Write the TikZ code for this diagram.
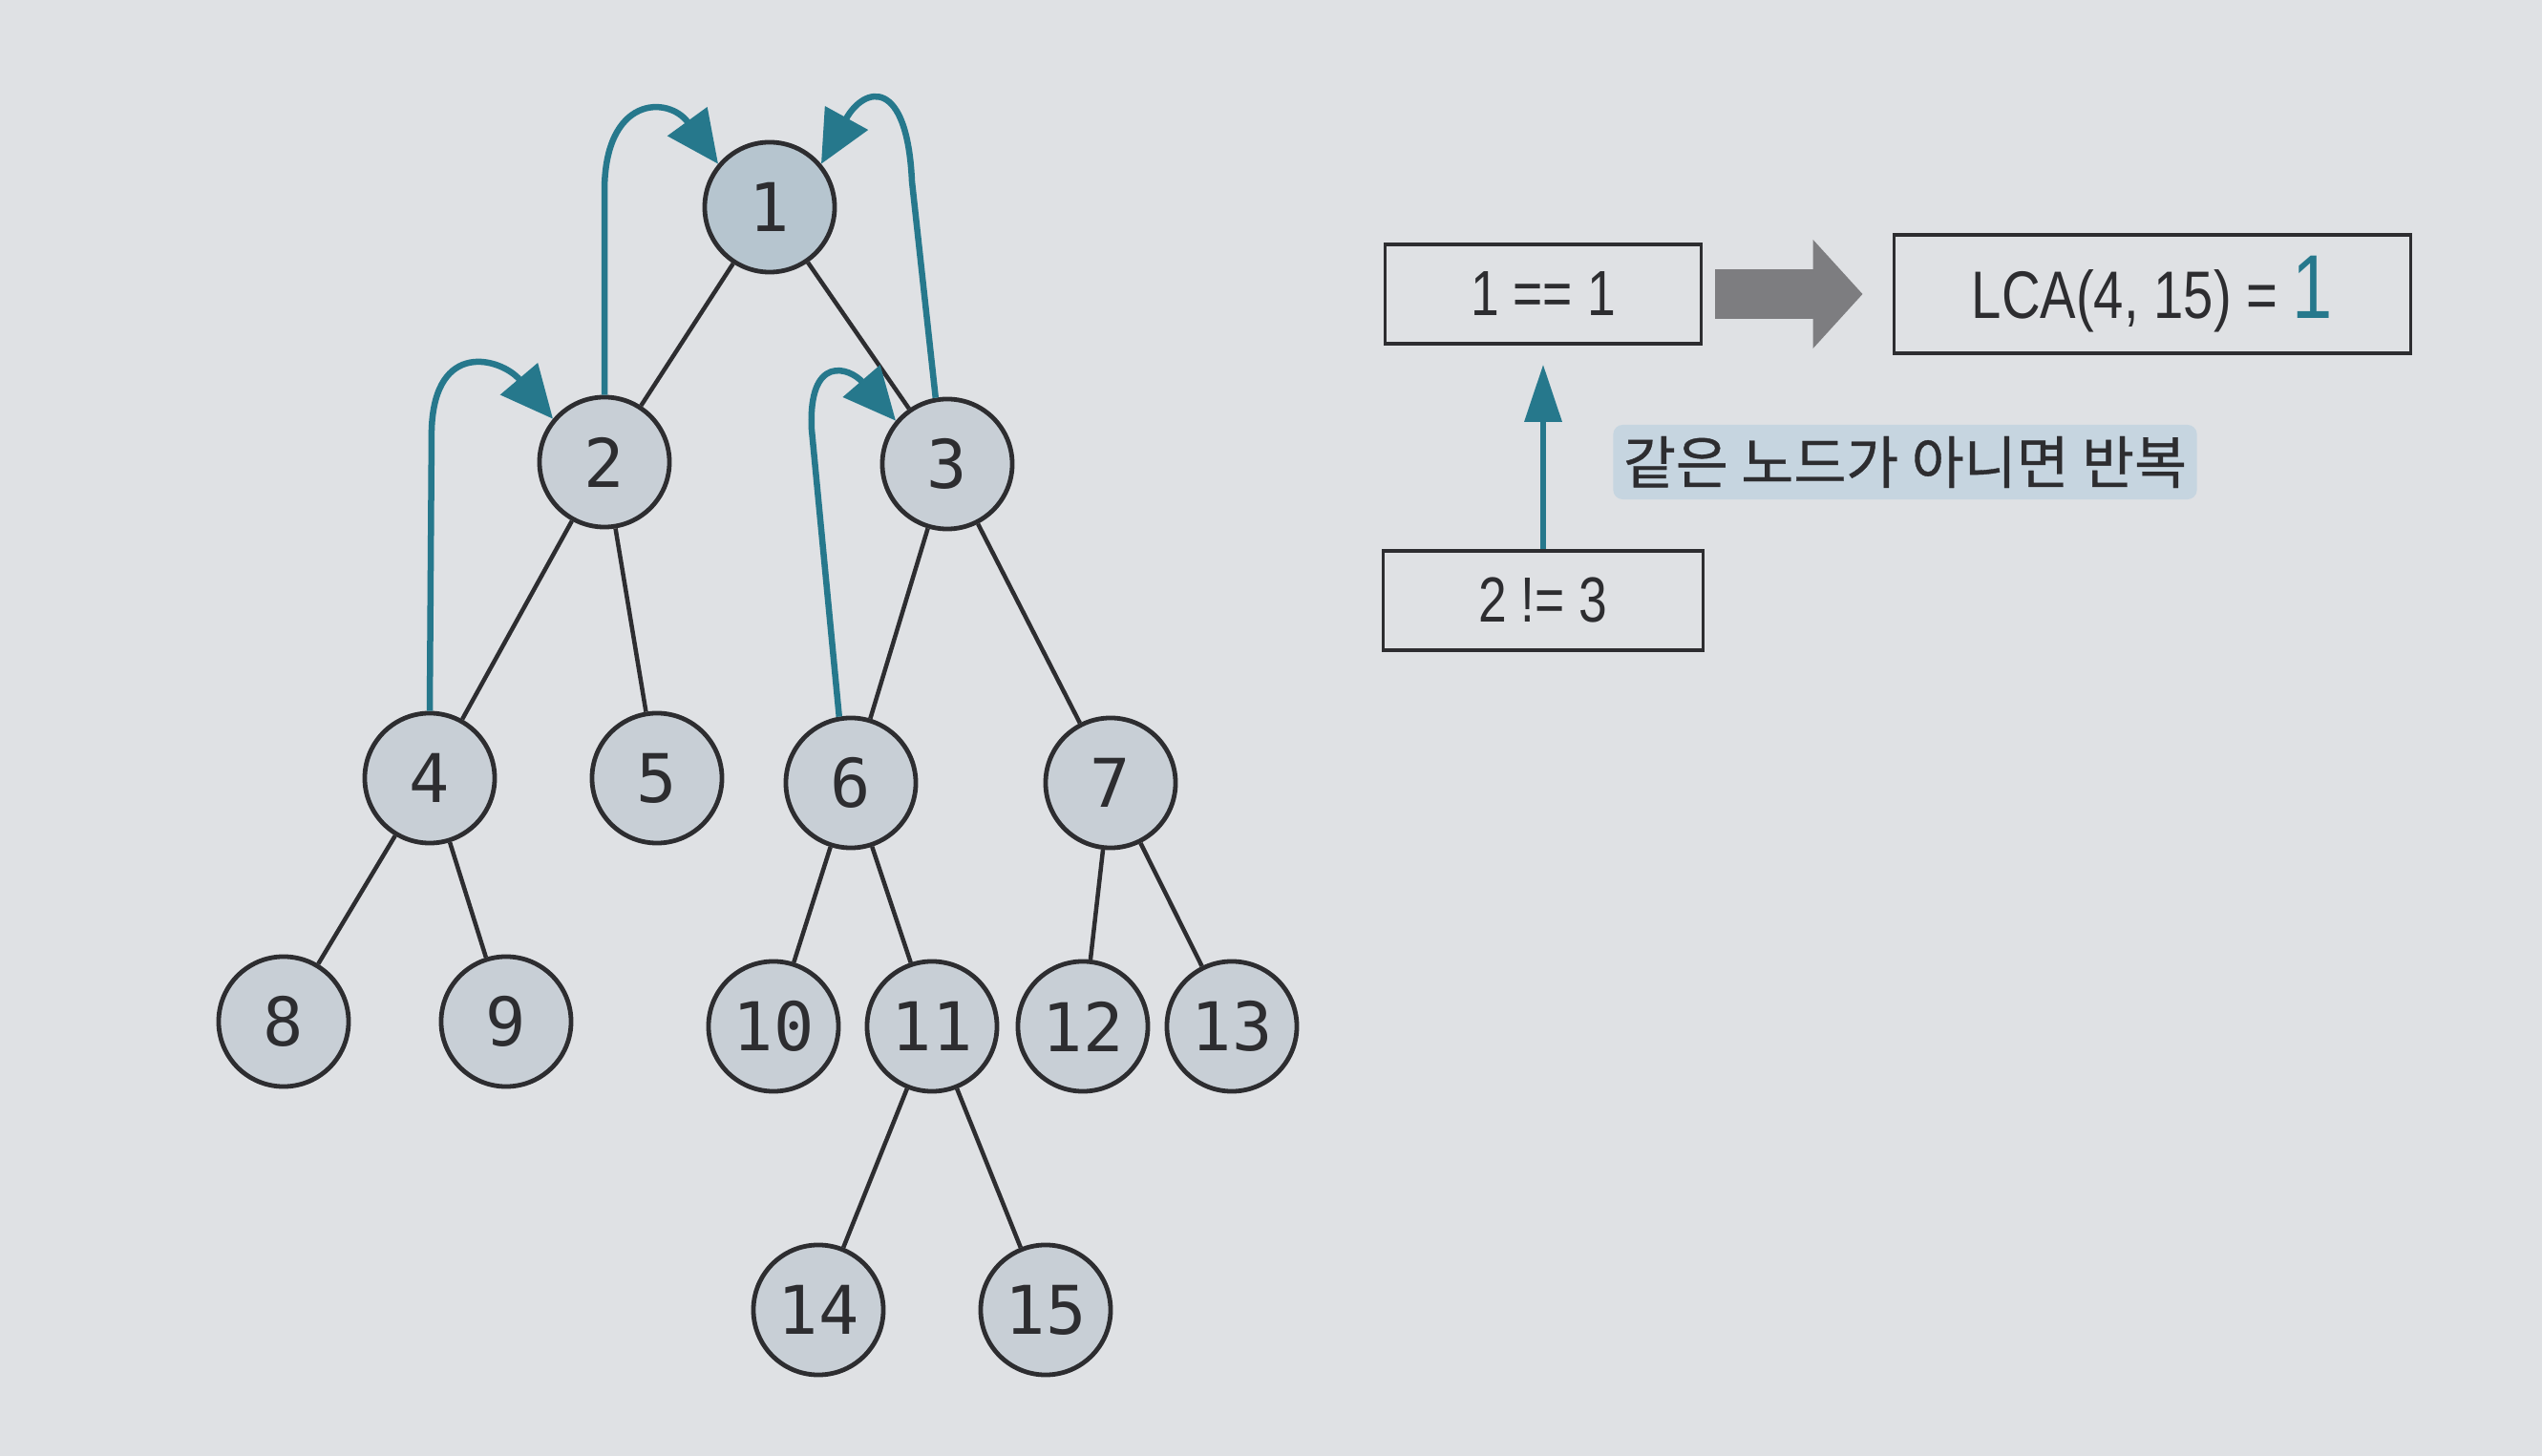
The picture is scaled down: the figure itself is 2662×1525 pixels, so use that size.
\documentclass[tikz,border=0pt]{standalone}
\usepackage{fontspec}
\newfontfamily\nodefont{DejaVu Sans Mono}
\newfontfamily\boxfont[FakeStretch=0.8]{Liberation Sans}
\newfontfamily\krfont[FakeBold=0.6]{Noto Sans CJK KR}
\usetikzlibrary{arrows.meta}
\definecolor{bg}{RGB}{223,225,228}
\definecolor{nodefill}{RGB}{200,207,214}
\definecolor{rootfill}{RGB}{182,197,207}
\definecolor{ink}{RGB}{45,45,48}
\definecolor{tealc}{RGB}{38,120,140}
\definecolor{labelbg}{RGB}{198,213,224}
\definecolor{arrowgray}{RGB}{125,125,128}
\begin{document}
\begin{tikzpicture}[x=0.01cm,y=-0.01cm,
  tnode/.style={circle, draw=ink, line width=0.048cm, fill=nodefill, minimum size=1.36cm, inner sep=0pt, font=\nodefont\fontsize{20}{24}\selectfont, text=ink},
  edge/.style={draw=ink, line width=0.045cm},
  jump/.style={draw=tealc, line width=0.065cm, -{Triangle[length=0.55cm,width=0.5cm]}},
  box/.style={draw=ink, line width=0.035cm, inner sep=0pt, font=\boxfont\fontsize{19}{23}\selectfont, text=ink},
]
\fill[bg] (0,0) rectangle (2662,1525);
\useasboundingbox (0,0) rectangle (2662,1525);

% tree nodes
\node[tnode, fill=rootfill] (n1) at (806,217) {1};
\node[tnode] (n2) at (633,484) {2};
\node[tnode] (n3) at (992,486) {3};
\node[tnode] (n4) at (450,815) {4};
\node[tnode] (n5) at (688,815) {5};
\node[tnode] (n6) at (891,820) {6};
\node[tnode] (n7) at (1163,820) {7};
\node[tnode] (n8) at (297,1070) {8};
\node[tnode] (n9) at (530,1070) {9};
\node[tnode] (n10) at (810,1075) {10};
\node[tnode] (n11) at (976,1075) {11};
\node[tnode] (n12) at (1134,1075) {12};
\node[tnode] (n13) at (1290,1075) {13};
\node[tnode] (n14) at (857,1372) {14};
\node[tnode] (n15) at (1095,1372) {15};

% tree edges
\foreach \a/\b in {n1/n2,n1/n3,n2/n4,n2/n5,n3/n6,n3/n7,n4/n8,n4/n9,n6/n10,n6/n11,n7/n12,n7/n13,n11/n14,n11/n15}
  \draw[edge] (\a) -- (\b);

% jumps to parents
\draw[jump] (n4.north) -- (452,450) .. controls (455,355) and (525,375) .. (n2.140);
\draw[jump] (n2.north) -- (633,200) .. controls (633,100) and (700,100) .. (n1.140);
\draw[jump] (n6.100) -- (850,450) .. controls (846,370) and (890,385) .. (n3.140);
\draw[jump] (n3.100) -- (955,190) .. controls (950,80) and (905,90) .. (n1.40);

% right side
\node[box, minimum width=3.31cm, minimum height=1.04cm] (b1) at (1616,308) {1 == 1};
\node[box, minimum width=5.41cm, minimum height=1.24cm, font=\boxfont\fontsize{20}{24}\selectfont] (lca) at (2254,308) {LCA(4, 15) = {\color{tealc}\fontsize{27}{30}\selectfont 1}};
\node[box, minimum width=3.35cm, minimum height=1.04cm] (b2) at (1616,629) {2 != 3};
\node[fill=labelbg, rounded corners=0.1cm, minimum width=6.11cm, minimum height=0.78cm, inner sep=0pt, font=\krfont\fontsize{17}{20}\selectfont, text=ink] (lbl) at (1995,484) {같은 노드가 아니면 반복};

\draw[arrowgray, line width=0.51cm, -{Triangle[length=0.52cm,width=1.11cm]}, shorten <=0.13cm, shorten >=0.31cm] (b1) -- (lca);
\draw[draw=tealc, line width=0.065cm, -{Triangle[length=0.6cm,width=0.38cm]}, shorten >=0.2cm] (b2) -- (b1);
\end{tikzpicture}
\end{document}
